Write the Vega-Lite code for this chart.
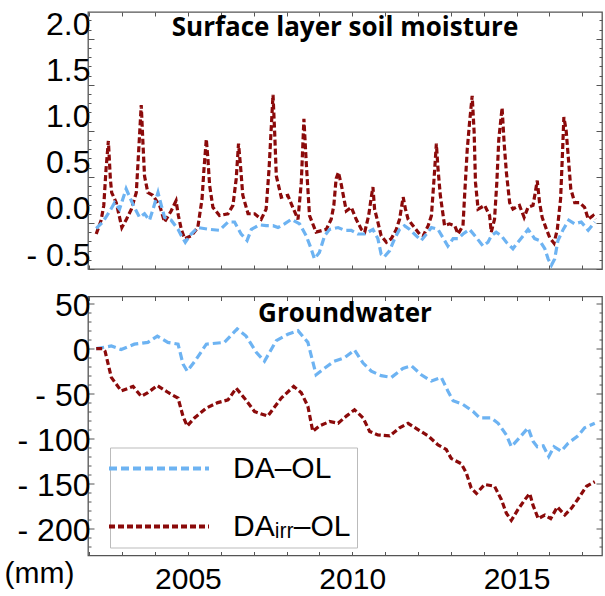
{
  "$schema": "https://vega.github.io/schema/vega-lite/v6.json",
  "padding": {"left": 3, "top": 8, "right": 0, "bottom": 0},
  "background": "white",
  "spacing": 15.5,
  "config": {
    "view": {"stroke": "#555555", "strokeWidth": 1.3},
    "axis": {"grid": false, "domain": false, "tickColor": "#555555", "tickWidth": 1, "labelFont": "Liberation Sans", "labelFontSize": 32, "labelColor": "black", "labelOverlap": false, "labelFlush": false, "titleFont": "Liberation Sans", "titleFontSize": 30, "titleFontWeight": "normal", "titleColor": "black"},
    "title": {"font": "Open Sans", "fontWeight": "bold", "fontSize": 26, "color": "black", "anchor": "middle", "frame": "group"}
  },
  "datasets": {
    "sm": [
      {"s": "DAᵢᵣᵣ–OL", "t": 2002.21, "v": -0.12}, {"s": "DAᵢᵣᵣ–OL", "t": 2002.36, "v": 0.03}, {"s": "DAᵢᵣᵣ–OL", "t": 2002.44, "v": 0.19}, {"s": "DAᵢᵣᵣ–OL", "t": 2002.51, "v": 0.59}, {"s": "DAᵢᵣᵣ–OL", "t": 2002.58, "v": 0.89}, {"s": "DAᵢᵣᵣ–OL", "t": 2002.64, "v": 0.48}, {"s": "DAᵢᵣᵣ–OL", "t": 2002.68, "v": 0.33}, {"s": "DAᵢᵣᵣ–OL", "t": 2002.82, "v": 0.22}, {"s": "DAᵢᵣᵣ–OL", "t": 2002.99, "v": -0.05}, {"s": "DAᵢᵣᵣ–OL", "t": 2003.13, "v": 0.04},
      {"s": "DAᵢᵣᵣ–OL", "t": 2003.28, "v": 0.15}, {"s": "DAᵢᵣᵣ–OL", "t": 2003.43, "v": 0.33}, {"s": "DAᵢᵣᵣ–OL", "t": 2003.50, "v": 0.77}, {"s": "DAᵢᵣᵣ–OL", "t": 2003.58, "v": 1.28}, {"s": "DAᵢᵣᵣ–OL", "t": 2003.63, "v": 0.88}, {"s": "DAᵢᵣᵣ–OL", "t": 2003.68, "v": 0.51}, {"s": "DAᵢᵣᵣ–OL", "t": 2003.78, "v": 0.33}, {"s": "DAᵢᵣᵣ–OL", "t": 2003.93, "v": 0.30}, {"s": "DAᵢᵣᵣ–OL", "t": 2004.14, "v": 0.19}, {"s": "DAᵢᵣᵣ–OL", "t": 2004.29, "v": 0.01},
      {"s": "DAᵢᵣᵣ–OL", "t": 2004.49, "v": 0.13}, {"s": "DAᵢᵣᵣ–OL", "t": 2004.64, "v": 0.24}, {"s": "DAᵢᵣᵣ–OL", "t": 2004.71, "v": 0.08}, {"s": "DAᵢᵣᵣ–OL", "t": 2004.80, "v": -0.07}, {"s": "DAᵢᵣᵣ–OL", "t": 2004.90, "v": -0.17}, {"s": "DAᵢᵣᵣ–OL", "t": 2005.10, "v": -0.14}, {"s": "DAᵢᵣᵣ–OL", "t": 2005.30, "v": -0.05}, {"s": "DAᵢᵣᵣ–OL", "t": 2005.43, "v": 0.26}, {"s": "DAᵢᵣᵣ–OL", "t": 2005.49, "v": 0.59}, {"s": "DAᵢᵣᵣ–OL", "t": 2005.56, "v": 0.91},
      {"s": "DAᵢᵣᵣ–OL", "t": 2005.61, "v": 0.69}, {"s": "DAᵢᵣᵣ–OL", "t": 2005.66, "v": 0.41}, {"s": "DAᵢᵣᵣ–OL", "t": 2005.76, "v": 0.17}, {"s": "DAᵢᵣᵣ–OL", "t": 2005.96, "v": 0.08}, {"s": "DAᵢᵣᵣ–OL", "t": 2006.22, "v": 0.10}, {"s": "DAᵢᵣᵣ–OL", "t": 2006.37, "v": 0.19}, {"s": "DAᵢᵣᵣ–OL", "t": 2006.47, "v": 0.48}, {"s": "DAᵢᵣᵣ–OL", "t": 2006.54, "v": 0.86}, {"s": "DAᵢᵣᵣ–OL", "t": 2006.60, "v": 0.62}, {"s": "DAᵢᵣᵣ–OL", "t": 2006.67, "v": 0.30},
      {"s": "DAᵢᵣᵣ–OL", "t": 2006.83, "v": 0.10}, {"s": "DAᵢᵣᵣ–OL", "t": 2007.03, "v": 0.10}, {"s": "DAᵢᵣᵣ–OL", "t": 2007.23, "v": 0.04}, {"s": "DAᵢᵣᵣ–OL", "t": 2007.38, "v": 0.15}, {"s": "DAᵢᵣᵣ–OL", "t": 2007.47, "v": 0.59}, {"s": "DAᵢᵣᵣ–OL", "t": 2007.54, "v": 1.06}, {"s": "DAᵢᵣᵣ–OL", "t": 2007.59, "v": 1.39}, {"s": "DAᵢᵣᵣ–OL", "t": 2007.64, "v": 0.98}, {"s": "DAᵢᵣᵣ–OL", "t": 2007.69, "v": 0.51}, {"s": "DAᵢᵣᵣ–OL", "t": 2007.84, "v": 0.28},
      {"s": "DAᵢᵣᵣ–OL", "t": 2008.04, "v": 0.30}, {"s": "DAᵢᵣᵣ–OL", "t": 2008.19, "v": 0.17}, {"s": "DAᵢᵣᵣ–OL", "t": 2008.35, "v": 0.04}, {"s": "DAᵢᵣᵣ–OL", "t": 2008.45, "v": 0.44}, {"s": "DAᵢᵣᵣ–OL", "t": 2008.53, "v": 1.13}, {"s": "DAᵢᵣᵣ–OL", "t": 2008.60, "v": 0.66}, {"s": "DAᵢᵣᵣ–OL", "t": 2008.70, "v": 0.08}, {"s": "DAᵢᵣᵣ–OL", "t": 2008.90, "v": -0.10}, {"s": "DAᵢᵣᵣ–OL", "t": 2009.21, "v": -0.07}, {"s": "DAᵢᵣᵣ–OL", "t": 2009.36, "v": 0.04},
      {"s": "DAᵢᵣᵣ–OL", "t": 2009.44, "v": 0.19}, {"s": "DAᵢᵣᵣ–OL", "t": 2009.51, "v": 0.48}, {"s": "DAᵢᵣᵣ–OL", "t": 2009.58, "v": 0.55}, {"s": "DAᵢᵣᵣ–OL", "t": 2009.67, "v": 0.41}, {"s": "DAᵢᵣᵣ–OL", "t": 2009.75, "v": 0.26}, {"s": "DAᵢᵣᵣ–OL", "t": 2009.82, "v": 0.13}, {"s": "DAᵢᵣᵣ–OL", "t": 2009.97, "v": 0.17}, {"s": "DAᵢᵣᵣ–OL", "t": 2010.12, "v": 0.04}, {"s": "DAᵢᵣᵣ–OL", "t": 2010.28, "v": -0.07}, {"s": "DAᵢᵣᵣ–OL", "t": 2010.38, "v": -0.10},
      {"s": "DAᵢᵣᵣ–OL", "t": 2010.50, "v": 0.08}, {"s": "DAᵢᵣᵣ–OL", "t": 2010.58, "v": 0.28}, {"s": "DAᵢᵣᵣ–OL", "t": 2010.63, "v": 0.39}, {"s": "DAᵢᵣᵣ–OL", "t": 2010.68, "v": 0.15}, {"s": "DAᵢᵣᵣ–OL", "t": 2010.78, "v": 0.01}, {"s": "DAᵢᵣᵣ–OL", "t": 2010.88, "v": -0.14}, {"s": "DAᵢᵣᵣ–OL", "t": 2011.04, "v": -0.21}, {"s": "DAᵢᵣᵣ–OL", "t": 2011.19, "v": -0.17}, {"s": "DAᵢᵣᵣ–OL", "t": 2011.34, "v": -0.07}, {"s": "DAᵢᵣᵣ–OL", "t": 2011.44, "v": 0.04},
      {"s": "DAᵢᵣᵣ–OL", "t": 2011.55, "v": 0.28}, {"s": "DAᵢᵣᵣ–OL", "t": 2011.62, "v": 0.15}, {"s": "DAᵢᵣᵣ–OL", "t": 2011.70, "v": 0.04}, {"s": "DAᵢᵣᵣ–OL", "t": 2011.85, "v": -0.03}, {"s": "DAᵢᵣᵣ–OL", "t": 2012.05, "v": -0.12}, {"s": "DAᵢᵣᵣ–OL", "t": 2012.16, "v": -0.14}, {"s": "DAᵢᵣᵣ–OL", "t": 2012.31, "v": -0.03}, {"s": "DAᵢᵣᵣ–OL", "t": 2012.41, "v": 0.08}, {"s": "DAᵢᵣᵣ–OL", "t": 2012.49, "v": 0.48}, {"s": "DAᵢᵣᵣ–OL", "t": 2012.56, "v": 0.86},
      {"s": "DAᵢᵣᵣ–OL", "t": 2012.61, "v": 0.59}, {"s": "DAᵢᵣᵣ–OL", "t": 2012.68, "v": 0.30}, {"s": "DAᵢᵣᵣ–OL", "t": 2012.81, "v": -0.03}, {"s": "DAᵢᵣᵣ–OL", "t": 2012.96, "v": -0.01}, {"s": "DAᵢᵣᵣ–OL", "t": 2013.12, "v": -0.03}, {"s": "DAᵢᵣᵣ–OL", "t": 2013.22, "v": -0.12}, {"s": "DAᵢᵣᵣ–OL", "t": 2013.37, "v": -0.03}, {"s": "DAᵢᵣᵣ–OL", "t": 2013.42, "v": 0.30}, {"s": "DAᵢᵣᵣ–OL", "t": 2013.50, "v": 0.80}, {"s": "DAᵢᵣᵣ–OL", "t": 2013.57, "v": 1.09},
      {"s": "DAᵢᵣᵣ–OL", "t": 2013.65, "v": 1.38}, {"s": "DAᵢᵣᵣ–OL", "t": 2013.71, "v": 0.98}, {"s": "DAᵢᵣᵣ–OL", "t": 2013.75, "v": 0.44}, {"s": "DAᵢᵣᵣ–OL", "t": 2013.83, "v": 0.15}, {"s": "DAᵢᵣᵣ–OL", "t": 2014.03, "v": 0.19}, {"s": "DAᵢᵣᵣ–OL", "t": 2014.18, "v": 0.08}, {"s": "DAᵢᵣᵣ–OL", "t": 2014.23, "v": -0.10}, {"s": "DAᵢᵣᵣ–OL", "t": 2014.33, "v": 0.04}, {"s": "DAᵢᵣᵣ–OL", "t": 2014.40, "v": 0.44}, {"s": "DAᵢᵣᵣ–OL", "t": 2014.46, "v": 0.91},
      {"s": "DAᵢᵣᵣ–OL", "t": 2014.56, "v": 1.25}, {"s": "DAᵢᵣᵣ–OL", "t": 2014.62, "v": 0.88}, {"s": "DAᵢᵣᵣ–OL", "t": 2014.69, "v": 0.55}, {"s": "DAᵢᵣᵣ–OL", "t": 2014.79, "v": 0.22}, {"s": "DAᵢᵣᵣ–OL", "t": 2014.89, "v": 0.15}, {"s": "DAᵢᵣᵣ–OL", "t": 2015.09, "v": 0.19}, {"s": "DAᵢᵣᵣ–OL", "t": 2015.23, "v": 0.06}, {"s": "DAᵢᵣᵣ–OL", "t": 2015.35, "v": 0.17}, {"s": "DAᵢᵣᵣ–OL", "t": 2015.50, "v": 0.19}, {"s": "DAᵢᵣᵣ–OL", "t": 2015.57, "v": 0.33},
      {"s": "DAᵢᵣᵣ–OL", "t": 2015.63, "v": 0.46}, {"s": "DAᵢᵣᵣ–OL", "t": 2015.70, "v": 0.22}, {"s": "DAᵢᵣᵣ–OL", "t": 2015.78, "v": 0.06}, {"s": "DAᵢᵣᵣ–OL", "t": 2015.91, "v": -0.07}, {"s": "DAᵢᵣᵣ–OL", "t": 2016.01, "v": -0.16}, {"s": "DAᵢᵣᵣ–OL", "t": 2016.14, "v": -0.22}, {"s": "DAᵢᵣᵣ–OL", "t": 2016.24, "v": -0.07}, {"s": "DAᵢᵣᵣ–OL", "t": 2016.34, "v": 0.26}, {"s": "DAᵢᵣᵣ–OL", "t": 2016.39, "v": 0.69}, {"s": "DAᵢᵣᵣ–OL", "t": 2016.44, "v": 1.15},
      {"s": "DAᵢᵣᵣ–OL", "t": 2016.51, "v": 1.00}, {"s": "DAᵢᵣᵣ–OL", "t": 2016.58, "v": 0.69}, {"s": "DAᵢᵣᵣ–OL", "t": 2016.65, "v": 0.37}, {"s": "DAᵢᵣᵣ–OL", "t": 2016.77, "v": 0.22}, {"s": "DAᵢᵣᵣ–OL", "t": 2016.92, "v": 0.22}, {"s": "DAᵢᵣᵣ–OL", "t": 2017.07, "v": 0.17}, {"s": "DAᵢᵣᵣ–OL", "t": 2017.18, "v": 0.04}, {"s": "DAᵢᵣᵣ–OL", "t": 2017.33, "v": 0.08}, {"s": "DAᵢᵣᵣ–OL", "t": 2017.40, "v": 0.04},
      {"s": "DA–OL", "t": 2002.21, "v": -0.06}, {"s": "DA–OL", "t": 2002.41, "v": 0.01}, {"s": "DA–OL", "t": 2002.61, "v": 0.12}, {"s": "DA–OL", "t": 2002.77, "v": 0.22}, {"s": "DA–OL", "t": 2002.92, "v": 0.15}, {"s": "DA–OL", "t": 2003.12, "v": 0.37}, {"s": "DA–OL", "t": 2003.28, "v": 0.24}, {"s": "DA–OL", "t": 2003.37, "v": 0.17}, {"s": "DA–OL", "t": 2003.53, "v": 0.06}, {"s": "DA–OL", "t": 2003.68, "v": 0.10},
      {"s": "DA–OL", "t": 2003.83, "v": 0.03}, {"s": "DA–OL", "t": 2003.94, "v": 0.15}, {"s": "DA–OL", "t": 2004.09, "v": 0.33}, {"s": "DA–OL", "t": 2004.19, "v": 0.19}, {"s": "DA–OL", "t": 2004.29, "v": 0.06}, {"s": "DA–OL", "t": 2004.49, "v": 0.03}, {"s": "DA–OL", "t": 2004.70, "v": -0.07}, {"s": "DA–OL", "t": 2004.80, "v": -0.14}, {"s": "DA–OL", "t": 2004.92, "v": -0.21}, {"s": "DA–OL", "t": 2005.10, "v": -0.12},
      {"s": "DA–OL", "t": 2005.30, "v": -0.05}, {"s": "DA–OL", "t": 2005.66, "v": -0.07}, {"s": "DA–OL", "t": 2005.96, "v": -0.08}, {"s": "DA–OL", "t": 2006.22, "v": 0.01}, {"s": "DA–OL", "t": 2006.42, "v": 0.01}, {"s": "DA–OL", "t": 2006.62, "v": -0.12}, {"s": "DA–OL", "t": 2006.80, "v": -0.19}, {"s": "DA–OL", "t": 2006.93, "v": -0.07}, {"s": "DA–OL", "t": 2007.18, "v": -0.02}, {"s": "DA–OL", "t": 2007.38, "v": -0.03},
      {"s": "DA–OL", "t": 2007.59, "v": -0.03}, {"s": "DA–OL", "t": 2007.74, "v": -0.05}, {"s": "DA–OL", "t": 2007.94, "v": -0.01}, {"s": "DA–OL", "t": 2008.15, "v": 0.04}, {"s": "DA–OL", "t": 2008.40, "v": -0.01}, {"s": "DA–OL", "t": 2008.60, "v": -0.14}, {"s": "DA–OL", "t": 2008.75, "v": -0.28}, {"s": "DA–OL", "t": 2008.85, "v": -0.39}, {"s": "DA–OL", "t": 2009.00, "v": -0.32}, {"s": "DA–OL", "t": 2009.16, "v": -0.14},
      {"s": "DA–OL", "t": 2009.31, "v": -0.07}, {"s": "DA–OL", "t": 2009.57, "v": -0.05}, {"s": "DA–OL", "t": 2009.77, "v": -0.08}, {"s": "DA–OL", "t": 2009.97, "v": -0.08}, {"s": "DA–OL", "t": 2010.17, "v": -0.12}, {"s": "DA–OL", "t": 2010.38, "v": -0.12}, {"s": "DA–OL", "t": 2010.63, "v": -0.07}, {"s": "DA–OL", "t": 2010.78, "v": -0.17}, {"s": "DA–OL", "t": 2010.88, "v": -0.34}, {"s": "DA–OL", "t": 2010.97, "v": -0.37},
      {"s": "DA–OL", "t": 2011.14, "v": -0.30}, {"s": "DA–OL", "t": 2011.29, "v": -0.17}, {"s": "DA–OL", "t": 2011.44, "v": -0.07}, {"s": "DA–OL", "t": 2011.59, "v": -0.03}, {"s": "DA–OL", "t": 2011.75, "v": -0.07}, {"s": "DA–OL", "t": 2011.95, "v": -0.14}, {"s": "DA–OL", "t": 2012.10, "v": -0.19}, {"s": "DA–OL", "t": 2012.26, "v": -0.12}, {"s": "DA–OL", "t": 2012.41, "v": -0.05}, {"s": "DA–OL", "t": 2012.61, "v": -0.07},
      {"s": "DA–OL", "t": 2012.76, "v": -0.16}, {"s": "DA–OL", "t": 2012.91, "v": -0.25}, {"s": "DA–OL", "t": 2013.07, "v": -0.17}, {"s": "DA–OL", "t": 2013.22, "v": -0.17}, {"s": "DA–OL", "t": 2013.37, "v": -0.12}, {"s": "DA–OL", "t": 2013.57, "v": -0.07}, {"s": "DA–OL", "t": 2013.78, "v": -0.16}, {"s": "DA–OL", "t": 2013.98, "v": -0.25}, {"s": "DA–OL", "t": 2014.13, "v": -0.21}, {"s": "DA–OL", "t": 2014.23, "v": -0.14},
      {"s": "DA–OL", "t": 2014.38, "v": -0.10}, {"s": "DA–OL", "t": 2014.54, "v": -0.14}, {"s": "DA–OL", "t": 2014.69, "v": -0.21}, {"s": "DA–OL", "t": 2014.89, "v": -0.28}, {"s": "DA–OL", "t": 2015.04, "v": -0.21}, {"s": "DA–OL", "t": 2015.20, "v": -0.14}, {"s": "DA–OL", "t": 2015.35, "v": -0.07}, {"s": "DA–OL", "t": 2015.55, "v": -0.17}, {"s": "DA–OL", "t": 2015.70, "v": -0.19}, {"s": "DA–OL", "t": 2015.86, "v": -0.28},
      {"s": "DA–OL", "t": 2015.96, "v": -0.39}, {"s": "DA–OL", "t": 2016.06, "v": -0.46}, {"s": "DA–OL", "t": 2016.16, "v": -0.39}, {"s": "DA–OL", "t": 2016.26, "v": -0.19}, {"s": "DA–OL", "t": 2016.42, "v": -0.07}, {"s": "DA–OL", "t": 2016.59, "v": 0.03}, {"s": "DA–OL", "t": 2016.77, "v": -0.01}, {"s": "DA–OL", "t": 2016.97, "v": 0.01}, {"s": "DA–OL", "t": 2017.18, "v": -0.08}, {"s": "DA–OL", "t": 2017.38, "v": 0.01}
    ],
    "gw": [
      {"s": "DA–OL", "t": 2002.21, "v": 0}, {"s": "DA–OL", "t": 2002.67, "v": 3}, {"s": "DA–OL", "t": 2002.97, "v": -1}, {"s": "DA–OL", "t": 2003.37, "v": 5}, {"s": "DA–OL", "t": 2003.78, "v": 7}, {"s": "DA–OL", "t": 2004.07, "v": 14}, {"s": "DA–OL", "t": 2004.39, "v": 7}, {"s": "DA–OL", "t": 2004.70, "v": 5}, {"s": "DA–OL", "t": 2004.85, "v": -17}, {"s": "DA–OL", "t": 2004.98, "v": -25},
      {"s": "DA–OL", "t": 2005.25, "v": -12}, {"s": "DA–OL", "t": 2005.56, "v": 5}, {"s": "DA–OL", "t": 2006.11, "v": 7}, {"s": "DA–OL", "t": 2006.50, "v": 22}, {"s": "DA–OL", "t": 2006.77, "v": 14}, {"s": "DA–OL", "t": 2007.08, "v": -4}, {"s": "DA–OL", "t": 2007.33, "v": -14}, {"s": "DA–OL", "t": 2007.69, "v": 9}, {"s": "DA–OL", "t": 2008.04, "v": 16}, {"s": "DA–OL", "t": 2008.35, "v": 20},
      {"s": "DA–OL", "t": 2008.65, "v": 7}, {"s": "DA–OL", "t": 2008.90, "v": -29}, {"s": "DA–OL", "t": 2009.26, "v": -19}, {"s": "DA–OL", "t": 2009.45, "v": -14}, {"s": "DA–OL", "t": 2009.77, "v": -10}, {"s": "DA–OL", "t": 2010.07, "v": -1.5}, {"s": "DA–OL", "t": 2010.33, "v": -16}, {"s": "DA–OL", "t": 2010.58, "v": -25}, {"s": "DA–OL", "t": 2010.88, "v": -30}, {"s": "DA–OL", "t": 2011.19, "v": -32},
      {"s": "DA–OL", "t": 2011.54, "v": -22}, {"s": "DA–OL", "t": 2011.80, "v": -19}, {"s": "DA–OL", "t": 2012.10, "v": -29}, {"s": "DA–OL", "t": 2012.41, "v": -36}, {"s": "DA–OL", "t": 2012.71, "v": -32}, {"s": "DA–OL", "t": 2012.91, "v": -47}, {"s": "DA–OL", "t": 2013.07, "v": -58}, {"s": "DA–OL", "t": 2013.37, "v": -62}, {"s": "DA–OL", "t": 2013.68, "v": -70}, {"s": "DA–OL", "t": 2013.88, "v": -77},
      {"s": "DA–OL", "t": 2014.23, "v": -77}, {"s": "DA–OL", "t": 2014.44, "v": -83}, {"s": "DA–OL", "t": 2014.69, "v": -96}, {"s": "DA–OL", "t": 2014.84, "v": -109}, {"s": "DA–OL", "t": 2015.09, "v": -99}, {"s": "DA–OL", "t": 2015.35, "v": -88}, {"s": "DA–OL", "t": 2015.50, "v": -103}, {"s": "DA–OL", "t": 2015.63, "v": -109}, {"s": "DA–OL", "t": 2015.81, "v": -108}, {"s": "DA–OL", "t": 2015.98, "v": -120},
      {"s": "DA–OL", "t": 2016.14, "v": -109}, {"s": "DA–OL", "t": 2016.36, "v": -114}, {"s": "DA–OL", "t": 2016.57, "v": -105}, {"s": "DA–OL", "t": 2016.87, "v": -97}, {"s": "DA–OL", "t": 2017.07, "v": -88}, {"s": "DA–OL", "t": 2017.38, "v": -83},
      {"s": "DAᵢᵣᵣ–OL", "t": 2002.21, "v": 0}, {"s": "DAᵢᵣᵣ–OL", "t": 2002.40, "v": 0}, {"s": "DAᵢᵣᵣ–OL", "t": 2002.48, "v": -3}, {"s": "DAᵢᵣᵣ–OL", "t": 2002.67, "v": -32}, {"s": "DAᵢᵣᵣ–OL", "t": 2002.97, "v": -47}, {"s": "DAᵢᵣᵣ–OL", "t": 2003.33, "v": -42}, {"s": "DAᵢᵣᵣ–OL", "t": 2003.58, "v": -53}, {"s": "DAᵢᵣᵣ–OL", "t": 2003.78, "v": -49}, {"s": "DAᵢᵣᵣ–OL", "t": 2004.07, "v": -41}, {"s": "DAᵢᵣᵣ–OL", "t": 2004.41, "v": -49},
      {"s": "DAᵢᵣᵣ–OL", "t": 2004.70, "v": -55}, {"s": "DAᵢᵣᵣ–OL", "t": 2004.85, "v": -75}, {"s": "DAᵢᵣᵣ–OL", "t": 2004.98, "v": -86}, {"s": "DAᵢᵣᵣ–OL", "t": 2005.20, "v": -77}, {"s": "DAᵢᵣᵣ–OL", "t": 2005.56, "v": -66}, {"s": "DAᵢᵣᵣ–OL", "t": 2005.91, "v": -60}, {"s": "DAᵢᵣᵣ–OL", "t": 2006.22, "v": -57}, {"s": "DAᵢᵣᵣ–OL", "t": 2006.47, "v": -44}, {"s": "DAᵢᵣᵣ–OL", "t": 2006.72, "v": -55}, {"s": "DAᵢᵣᵣ–OL", "t": 2007.03, "v": -70},
      {"s": "DAᵢᵣᵣ–OL", "t": 2007.43, "v": -75}, {"s": "DAᵢᵣᵣ–OL", "t": 2007.84, "v": -55}, {"s": "DAᵢᵣᵣ–OL", "t": 2008.22, "v": -42}, {"s": "DAᵢᵣᵣ–OL", "t": 2008.45, "v": -49}, {"s": "DAᵢᵣᵣ–OL", "t": 2008.65, "v": -64}, {"s": "DAᵢᵣᵣ–OL", "t": 2008.80, "v": -92}, {"s": "DAᵢᵣᵣ–OL", "t": 2009.00, "v": -86}, {"s": "DAᵢᵣᵣ–OL", "t": 2009.31, "v": -81}, {"s": "DAᵢᵣᵣ–OL", "t": 2009.57, "v": -83}, {"s": "DAᵢᵣᵣ–OL", "t": 2009.82, "v": -75},
      {"s": "DAᵢᵣᵣ–OL", "t": 2010.07, "v": -68}, {"s": "DAᵢᵣᵣ–OL", "t": 2010.33, "v": -77}, {"s": "DAᵢᵣᵣ–OL", "t": 2010.53, "v": -92}, {"s": "DAᵢᵣᵣ–OL", "t": 2010.78, "v": -96}, {"s": "DAᵢᵣᵣ–OL", "t": 2011.14, "v": -97}, {"s": "DAᵢᵣᵣ–OL", "t": 2011.44, "v": -88}, {"s": "DAᵢᵣᵣ–OL", "t": 2011.70, "v": -83}, {"s": "DAᵢᵣᵣ–OL", "t": 2012.00, "v": -90}, {"s": "DAᵢᵣᵣ–OL", "t": 2012.31, "v": -97}, {"s": "DAᵢᵣᵣ–OL", "t": 2012.61, "v": -107},
      {"s": "DAᵢᵣᵣ–OL", "t": 2012.86, "v": -112}, {"s": "DAᵢᵣᵣ–OL", "t": 2013.01, "v": -122}, {"s": "DAᵢᵣᵣ–OL", "t": 2013.32, "v": -128}, {"s": "DAᵢᵣᵣ–OL", "t": 2013.47, "v": -138}, {"s": "DAᵢᵣᵣ–OL", "t": 2013.62, "v": -155}, {"s": "DAᵢᵣᵣ–OL", "t": 2013.78, "v": -161}, {"s": "DAᵢᵣᵣ–OL", "t": 2014.03, "v": -151}, {"s": "DAᵢᵣᵣ–OL", "t": 2014.33, "v": -153}, {"s": "DAᵢᵣᵣ–OL", "t": 2014.54, "v": -168}, {"s": "DAᵢᵣᵣ–OL", "t": 2014.69, "v": -183},
      {"s": "DAᵢᵣᵣ–OL", "t": 2014.84, "v": -191}, {"s": "DAᵢᵣᵣ–OL", "t": 2015.04, "v": -179}, {"s": "DAᵢᵣᵣ–OL", "t": 2015.25, "v": -168}, {"s": "DAᵢᵣᵣ–OL", "t": 2015.40, "v": -161}, {"s": "DAᵢᵣᵣ–OL", "t": 2015.50, "v": -174}, {"s": "DAᵢᵣᵣ–OL", "t": 2015.66, "v": -189}, {"s": "DAᵢᵣᵣ–OL", "t": 2015.86, "v": -185}, {"s": "DAᵢᵣᵣ–OL", "t": 2016.04, "v": -189}, {"s": "DAᵢᵣᵣ–OL", "t": 2016.24, "v": -176}, {"s": "DAᵢᵣᵣ–OL", "t": 2016.47, "v": -185},
      {"s": "DAᵢᵣᵣ–OL", "t": 2016.68, "v": -177}, {"s": "DAᵢᵣᵣ–OL", "t": 2016.93, "v": -164}, {"s": "DAᵢᵣᵣ–OL", "t": 2017.13, "v": -153}, {"s": "DAᵢᵣᵣ–OL", "t": 2017.38, "v": -148}
    ]
  },
  "resolve": {
    "scale": {"color": "independent", "strokeDash": "independent"},
    "legend": {"color": "independent", "strokeDash": "independent"}
  },
  "vconcat": [
    {
      "width": 514,
      "height": 257,
      "title": {"text": "Surface layer soil moisture", "offset": -32},
      "data": {"name": "sm"},
      "resolve": {"axis": {"x": "independent", "y": "independent"}},
      "layer": [
        {
          "mark": {"type": "line", "strokeWidth": 3.2},
          "encoding": {
            "x": {"field": "t", "type": "quantitative", "scale": {"domain": [2001.96, 2017.6], "nice": false, "zero": false},
                  "axis": {"orient": "bottom", "values": [2002, 2003, 2004, 2005, 2006, 2007, 2008, 2009, 2010, 2011, 2012, 2013, 2014, 2015, 2016, 2017], "tickSize": -4, "labels": false, "title": null}},
            "y": {"field": "v", "type": "quantitative", "scale": {"domain": [-0.5, 2.29], "nice": false, "zero": false},
                  "axis": {"orient": "left", "values": [-0.5, 0, 0.5, 1, 1.5, 2], "tickSize": -6, "labelPadding": 4, "labelOffset": -14,
                           "labelExpr": "datum.value < 0 ? '- ' + format(-datum.value, '.1f') : format(datum.value, '.1f')", "title": null}},
            "color": {"field": "s", "type": "nominal", "scale": {"domain": ["DA–OL", "DAᵢᵣᵣ–OL"], "range": ["#6DB3F2", "#8B0A0A"]}, "legend": null},
            "strokeDash": {"field": "s", "type": "nominal", "scale": {"domain": ["DA–OL", "DAᵢᵣᵣ–OL"], "range": [[8, 4], [6, 3]]}, "legend": null}
          }
        },
        {
          "mark": {"type": "line", "opacity": 0},
          "encoding": {
            "x": {"field": "t", "type": "quantitative", "scale": {"domain": [2001.96, 2017.6], "nice": false, "zero": false},
                  "axis": {"orient": "top", "values": [2002, 2003, 2004, 2005, 2006, 2007, 2008, 2009, 2010, 2011, 2012, 2013, 2014, 2015, 2016, 2017], "tickSize": -4, "labels": false, "title": null}},
            "y": {"field": "v", "type": "quantitative", "scale": {"domain": [-0.5, 2.29], "nice": false, "zero": false},
                  "axis": {"orient": "left", "values": [-0.4, -0.3, -0.2, -0.1, 0.1, 0.2, 0.3, 0.4, 0.6, 0.7, 0.8, 0.9, 1.1, 1.2, 1.3, 1.4, 1.6, 1.7, 1.8, 1.9, 2.1, 2.2], "tickSize": -3, "labels": false, "title": null}}
          }
        },
        {
          "mark": {"type": "line", "opacity": 0},
          "encoding": {
            "x": {"field": "t", "type": "quantitative", "scale": {"domain": [2001.96, 2017.6], "nice": false, "zero": false}, "axis": null},
            "y": {"field": "v", "type": "quantitative", "scale": {"domain": [-0.5, 2.29], "nice": false, "zero": false},
                  "axis": {"orient": "right", "values": [-0.5, 0, 0.5, 1, 1.5, 2], "tickSize": -6, "labels": false, "title": null}}
          }
        },
        {
          "mark": {"type": "line", "opacity": 0},
          "encoding": {
            "x": {"field": "t", "type": "quantitative", "scale": {"domain": [2001.96, 2017.6], "nice": false, "zero": false}, "axis": null},
            "y": {"field": "v", "type": "quantitative", "scale": {"domain": [-0.5, 2.29], "nice": false, "zero": false},
                  "axis": {"orient": "right", "values": [-0.4, -0.3, -0.2, -0.1, 0.1, 0.2, 0.3, 0.4, 0.6, 0.7, 0.8, 0.9, 1.1, 1.2, 1.3, 1.4, 1.6, 1.7, 1.8, 1.9, 2.1, 2.2], "tickSize": -3, "labels": false, "title": null}}
          }
        }
      ]
    },
    {
      "width": 514,
      "height": 259,
      "title": {"text": "Groundwater", "offset": -37},
      "data": {"name": "gw"},
      "resolve": {"axis": {"x": "independent", "y": "independent"}},
      "layer": [
        {
          "mark": {"type": "line", "strokeWidth": 3.2},
          "encoding": {
            "x": {"field": "t", "type": "quantitative", "scale": {"domain": [2001.96, 2017.6], "nice": false, "zero": false},
                  "axis": {"orient": "bottom", "values": [2002, 2003, 2004, 2005, 2006, 2007, 2008, 2009, 2010, 2011, 2012, 2013, 2014, 2015, 2016, 2017], "tickSize": -4, "labelPadding": 13, "labelFontSize": 30, "format": "d",
                           "labelExpr": "datum.value % 5 === 0 ? datum.label : ''", "title": null}},
            "y": {"field": "v", "type": "quantitative", "scale": {"domain": [-230, 58], "nice": false, "zero": false},
                  "axis": {"orient": "left", "values": [-200, -150, -100, -50, 0, 50], "tickSize": -6, "labelPadding": 4, "labelOffset": 2,
                           "labelExpr": "datum.value < 0 ? '- ' + format(-datum.value, 'd') : format(datum.value, 'd')",
                           "title": "(mm)", "titleAngle": 0, "titleAlign": "left", "titleBaseline": "alphabetic", "titleX": -84, "titleY": 286}},
            "color": {"field": "s", "type": "nominal", "scale": {"domain": ["DA–OL", "DAᵢᵣᵣ–OL"], "range": ["#6DB3F2", "#8B0A0A"]},
                      "legend": {"orient": "none", "legendX": 22, "legendY": 151, "title": null, "symbolType": "M-5,0H5", "symbolSize": 400, "symbolStrokeWidth": 4, "symbolOffset": 28,
                                 "labelFont": "Liberation Sans", "labelFontSize": 30, "labelColor": "black", "labelOffset": 59, "labelLimit": 400,
                                 "strokeColor": "#BBBBBB", "fillColor": "white", "padding": 6, "rowPadding": 28}},
            "strokeDash": {"field": "s", "type": "nominal", "scale": {"domain": ["DA–OL", "DAᵢᵣᵣ–OL"], "range": [[8, 4], [6, 3]]},
                      "legend": {"orient": "none", "legendX": 22, "legendY": 151, "title": null, "symbolType": "M-5,0H5", "symbolSize": 400, "symbolStrokeWidth": 4, "symbolOffset": 28,
                                 "labelFont": "Liberation Sans", "labelFontSize": 30, "labelColor": "black", "labelOffset": 59, "labelLimit": 400,
                                 "strokeColor": "#BBBBBB", "fillColor": "white", "padding": 6, "rowPadding": 28}}
          }
        },
        {
          "mark": {"type": "line", "opacity": 0},
          "encoding": {
            "x": {"field": "t", "type": "quantitative", "scale": {"domain": [2001.96, 2017.6], "nice": false, "zero": false},
                  "axis": {"orient": "top", "values": [2002, 2003, 2004, 2005, 2006, 2007, 2008, 2009, 2010, 2011, 2012, 2013, 2014, 2015, 2016, 2017], "tickSize": -4, "labels": false, "title": null}},
            "y": {"field": "v", "type": "quantitative", "scale": {"domain": [-230, 58], "nice": false, "zero": false},
                  "axis": {"orient": "left", "values": [-220, -210, -190, -180, -170, -160, -140, -130, -120, -110, -90, -80, -70, -60, -40, -30, -20, -10, 10, 20, 30, 40], "tickSize": -3, "labels": false, "title": null}}
          }
        },
        {
          "mark": {"type": "line", "opacity": 0},
          "encoding": {
            "x": {"field": "t", "type": "quantitative", "scale": {"domain": [2001.96, 2017.6], "nice": false, "zero": false}, "axis": null},
            "y": {"field": "v", "type": "quantitative", "scale": {"domain": [-230, 58], "nice": false, "zero": false},
                  "axis": {"orient": "right", "values": [-200, -150, -100, -50, 0, 50], "tickSize": -6, "labels": false, "title": null}}
          }
        },
        {
          "mark": {"type": "line", "opacity": 0},
          "encoding": {
            "x": {"field": "t", "type": "quantitative", "scale": {"domain": [2001.96, 2017.6], "nice": false, "zero": false}, "axis": null},
            "y": {"field": "v", "type": "quantitative", "scale": {"domain": [-230, 58], "nice": false, "zero": false},
                  "axis": {"orient": "right", "values": [-220, -210, -190, -180, -170, -160, -140, -130, -120, -110, -90, -80, -70, -60, -40, -30, -20, -10, 10, 20, 30, 40], "tickSize": -3, "labels": false, "title": null}}
          }
        }
      ]
    }
  ]
}
